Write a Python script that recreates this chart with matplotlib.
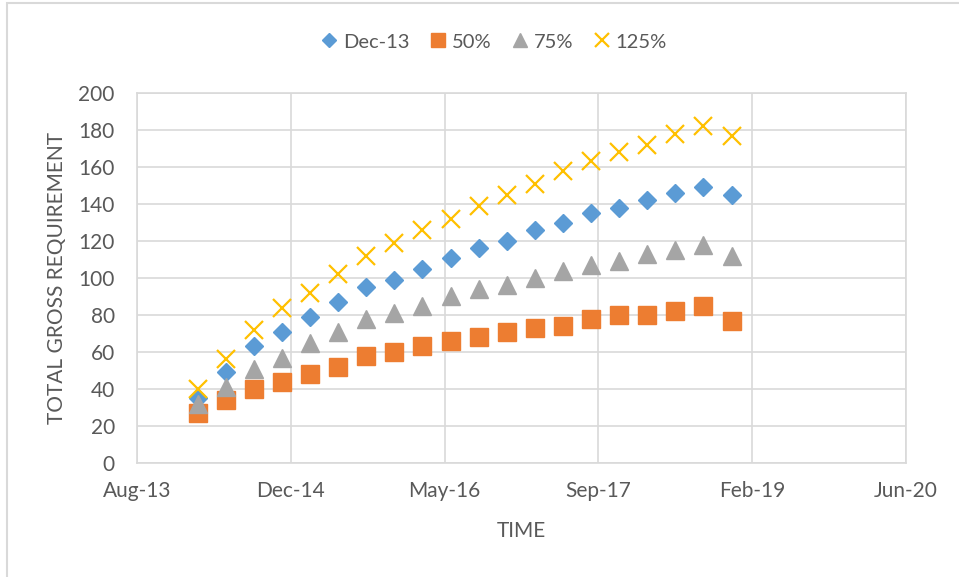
import datetime as dt
import numpy as np
import matplotlib
matplotlib.use("Agg")
import matplotlib.pyplot as plt
import matplotlib.dates as mdates
from matplotlib.patches import Rectangle

# quarterly points, Mar-14 .. Dec-18
dates = [dt.datetime(2014, 3, 1) + dt.timedelta(days=int(round(91.3 * i))) for i in range(20)]

dec13 = [35, 49, 63, 71, 79, 87, 95, 99, 105, 111, 116, 120, 126, 130, 135, 138, 142, 146, 149, 145]
p50 = [27, 34, 40, 44, 48, 52, 58, 60, 63, 66, 68, 71, 73, 74, 78, 80, 80, 82, 85, 77]
p75 = [32, 41, 51, 57, 65, 71, 78, 81, 85, 90, 94, 96, 100, 104, 107, 109, 113, 115, 118, 112]
p125 = [40, 56, 72, 84, 92, 102, 112, 119, 126, 132, 139, 145, 151, 158, 163, 168, 172, 178, 182, 177]

txt = '#595959'
grid = '#d9d9d9'
plt.rcParams['font.family'] = ['Lato', 'DejaVu Sans']

fig = plt.figure(figsize=(9.59, 5.77), dpi=100)
# chart area border (right/bottom edges fall outside the picture)
fig.patches.append(Rectangle((7 / 959, -0.1), 1.2, 1.1 - 2.5 / 577, transform=fig.transFigure,
                             fill=False, edgecolor=grid, lw=1.5))
ax = fig.add_axes([0.1429, 0.1976, 0.8018, 0.6412])

ax.plot(dates, dec13, 'D', color='#5B9BD5', ms=9.5, mec='#5B9BD5', label='Dec-13', zorder=3)
ax.plot(dates, p50, 's', color='#ED7D31', ms=13, mec='#ED7D31', label='50%', zorder=3)
ax.plot(dates, p75, '^', color='#A5A5A5', ms=13, mec='#A5A5A5', label='75%', zorder=3)
ax.plot(dates, p125, 'x', color='#FFC000', ms=12.5, mew=1.6, label='125%', zorder=3)

start = dt.datetime(2013, 8, 15)
ticks = [start + dt.timedelta(days=500 * i) for i in range(6)]
ax.set_xlim(ticks[0], ticks[-1])
ax.set_xticks(ticks)
ax.xaxis.set_major_formatter(mdates.DateFormatter('%b-%y'))
ax.set_ylim(0, 200)
ax.set_yticks(range(0, 201, 20))

ax.grid(True, color=grid, lw=1.2)
ax.set_axisbelow(True)
for s in ax.spines.values():
    s.set_color(grid)
    s.set_linewidth(1.2)
ax.tick_params(length=0, labelsize=15, colors=txt)
ax.tick_params(axis='x', pad=13)
ax.tick_params(axis='y', pad=16)

ax.set_xlabel('TIME', fontsize=15, color=txt, va='center')
ax.set_ylabel('TOTAL GROSS REQUIREMENT', fontsize=15, color=txt, va='center')
ax.xaxis.set_label_coords(0.5, -68 / 370)
ax.yaxis.set_label_coords(-80 / 769, 0.5)

ax.legend(loc='center', bbox_to_anchor=(491 / 959, 1 - 42 / 577), bbox_transform=fig.transFigure,
          ncol=4, frameon=False, fontsize=14.5, labelcolor=txt, handletextpad=0.0,
          columnspacing=0.7, handlelength=1.4, markerscale=0.75)

fig.savefig('out.png', dpi=100)
